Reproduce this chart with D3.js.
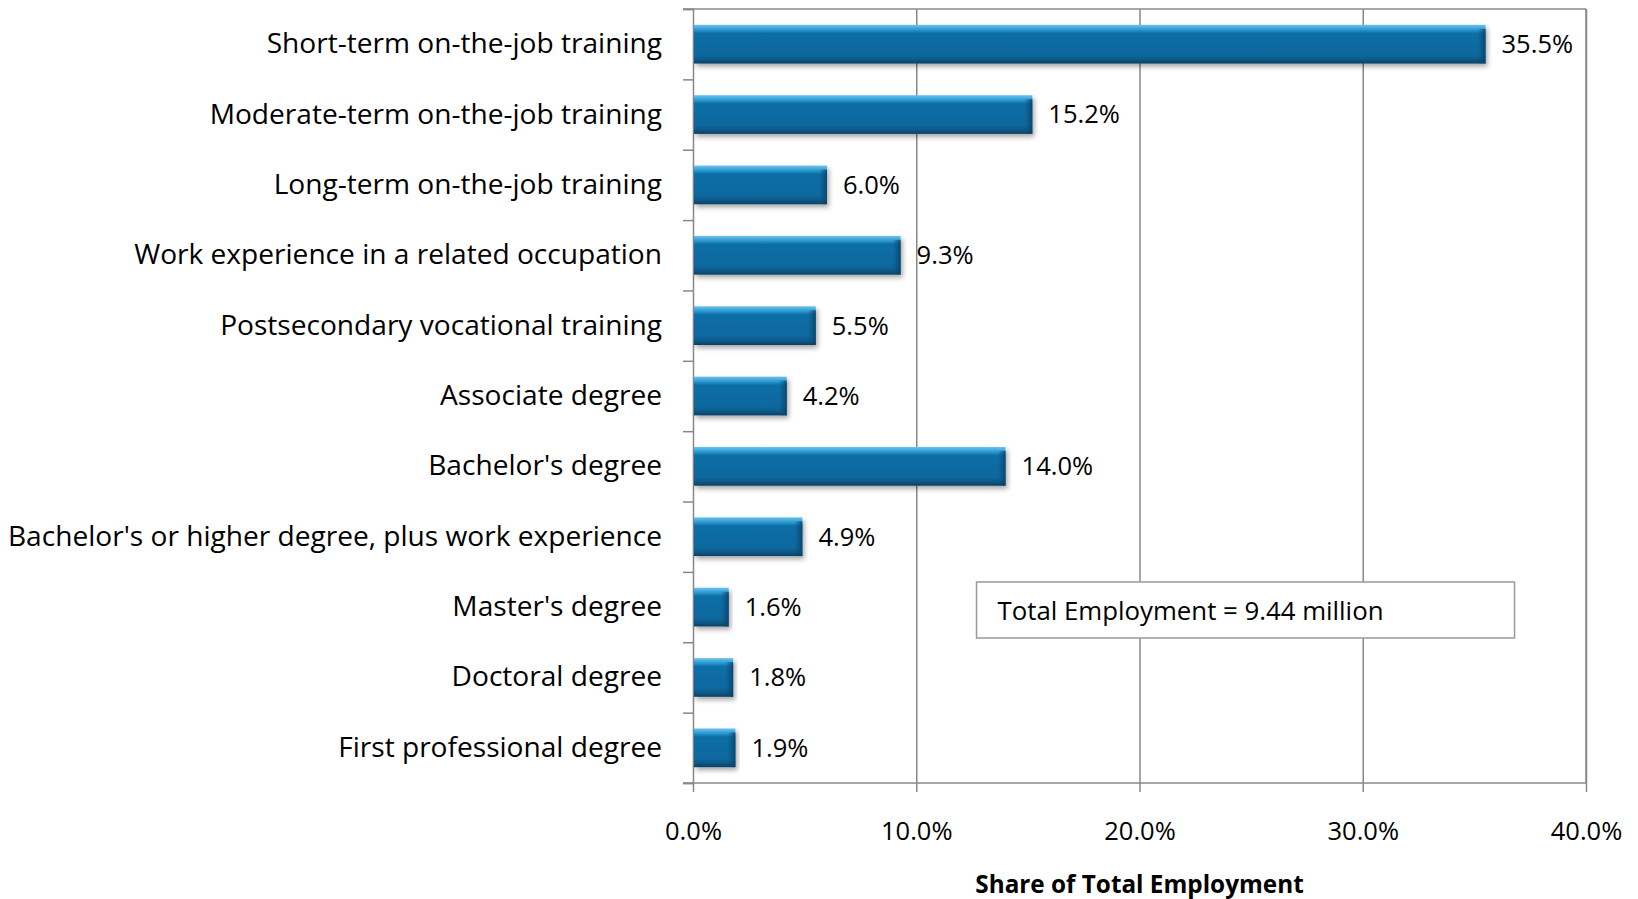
<!DOCTYPE html>
<html>
<head>
<meta charset="utf-8">
<script src="https://cdn.jsdelivr.net/npm/d3@7"></script>
<style>
  body { margin: 0; background: #fff; }
  text { font-family: "Open Sans", "Noto Sans", sans-serif; fill: #000; }
</style>
</head>
<body>
<div id="chart"></div>
<script>
// chart data
const categories = [
  "Short-term on-the-job training",
  "Moderate-term on-the-job training",
  "Long-term on-the-job training",
  "Work experience in a related occupation",
  "Postsecondary vocational training",
  "Associate degree",
  "Bachelor's degree",
  "Bachelor's or higher degree, plus work experience",
  "Master's degree",
  "Doctoral degree",
  "First professional degree"
];
const shares = [35.5, 15.2, 6.0, 9.3, 5.5, 4.2, 14.0, 4.9, 1.6, 1.8, 1.9];
const xTicks = [0, 10, 20, 30, 40];
const axisTitle = "Share of Total Employment";
const noteText = "Total Employment = 9.44 million";

let width = 1638,
    height = 899,
    margin = ({ top: 9, right: 52, bottom: 116, left: 693 });

const gridColor = "#888";

const svg = d3.select("#chart")
  .append("svg")
  .attr("width", width)
  .attr("height", height);

const defs = svg.append("defs");

// bevelled blue bar look
const grad = defs.append("linearGradient")
  .attr("id", "barFill")
  .attr("x1", 0).attr("y1", 0).attr("x2", 0).attr("y2", 1);
[[0, "#6cc3ee"], [0.12, "#2f9ad4"], [0.22, "#0b6ea6"], [0.78, "#0a689e"], [0.9, "#0a5886"], [1, "#0a3f63"]]
  .forEach(([o, c]) => grad.append("stop").attr("offset", o).attr("stop-color", c));

const endGrad = defs.append("linearGradient")
  .attr("id", "barEnd")
  .attr("x1", 0).attr("y1", 0).attr("x2", 1).attr("y2", 0);
[[0, "#0a4f7a", 0], [1, "#0a3f63", 0.85]]
  .forEach(([o, c, a]) => endGrad.append("stop").attr("offset", o).attr("stop-color", c).attr("stop-opacity", a));

const shadow = defs.append("filter")
  .attr("id", "shadow")
  .attr("x", "-5%").attr("y", "-20%").attr("width", "115%").attr("height", "160%");
shadow.append("feDropShadow")
  .attr("dx", 2).attr("dy", 3).attr("stdDeviation", 2.5)
  .attr("flood-color", "#000").attr("flood-opacity", 0.35);

let x = d3.scaleLinear()
  .domain([0, 40])
  .range([margin.left, width - margin.right]);

let y = d3.scaleBand()
  .domain(categories)
  .range([margin.top, height - margin.bottom])
  .paddingInner(0.45)
  .paddingOuter(0.225);

// slot boundaries for the category ticks
let yIdx = d3.scaleLinear()
  .domain([0, categories.length])
  .range([margin.top, height - margin.bottom]);

// vertical gridlines
svg.append("g")
  .attr("class", "grid")
  .attr("transform", `translate(0,${margin.top})`)
  .call(d3.axisBottom(x).tickValues(xTicks.slice(1)).tickSize(height - margin.top - margin.bottom).tickFormat(""))
  .call(g => g.select(".domain").remove())
  .call(g => g.selectAll("line").attr("stroke", gridColor).attr("stroke-width", 1.5));

// top border
svg.append("line")
  .attr("x1", margin.left - 10).attr("x2", width - margin.right)
  .attr("y1", margin.top).attr("y2", margin.top)
  .attr("stroke", gridColor).attr("stroke-width", 1.5);

// x axis
svg.append("g")
  .attr("class", "x-axis")
  .attr("transform", `translate(0,${height - margin.bottom})`)
  .call(d3.axisBottom(x).tickValues(xTicks).tickSize(9).tickPadding(0).tickFormat(d => d.toFixed(1) + "%"))
  .call(g => g.select(".domain").remove())
  .call(g => g.selectAll("line").attr("stroke", gridColor).attr("stroke-width", 1.5))
  .call(g => g.selectAll("text")
    .attr("y", 48).attr("dy", "0.35em")
    .attr("font-size", 25.5).attr("font-family", null).attr("fill", "#000"));

svg.append("line")
  .attr("x1", margin.left - 10).attr("x2", width - margin.right)
  .attr("y1", height - margin.bottom).attr("y2", height - margin.bottom)
  .attr("stroke", gridColor).attr("stroke-width", 1.5);

// y axis: boundary ticks
svg.append("g")
  .attr("transform", `translate(${margin.left},0)`)
  .call(d3.axisLeft(yIdx).ticks(categories.length).tickSize(10).tickFormat(""))
  .call(g => g.select(".domain").attr("stroke", gridColor).attr("stroke-width", 1.5))
  .call(g => g.selectAll("line").attr("stroke", gridColor).attr("stroke-width", 1.5));

// y axis: category labels
svg.append("g")
  .attr("class", "y-axis")
  .attr("transform", `translate(${margin.left},0)`)
  .call(d3.axisLeft(y).tickSize(0).tickPadding(31))
  .call(g => g.select(".domain").remove())
  .call(g => g.selectAll("text")
    .attr("font-size", 28.1).attr("font-family", null).attr("fill", "#000"));

// bars
const bars = svg.append("g")
  .selectAll("g")
  .data(categories)
  .join("g");

bars.append("rect")
  .attr("x", x(0) + 1)
  .attr("y", d => y(d))
  .attr("width", (d, i) => x(shares[i]) - x(0) - 1)
  .attr("height", y.bandwidth())
  .attr("fill", "url(#barFill)")
  .attr("filter", "url(#shadow)");

// darker right end for the bevel
bars.append("rect")
  .attr("x", (d, i) => x(shares[i]) - 8)
  .attr("y", d => y(d) + 4)
  .attr("width", 8)
  .attr("height", y.bandwidth() - 4)
  .attr("fill", "url(#barEnd)");

// value labels
svg.append("g")
  .selectAll("text")
  .data(categories)
  .join("text")
  .attr("x", (d, i) => x(shares[i]) + 16)
  .attr("y", d => y(d) + y.bandwidth() / 2)
  .attr("dy", "0.35em")
  .attr("font-size", 25.5)
  .text((d, i) => shares[i].toFixed(1) + "%");

// right border
svg.append("line")
  .attr("x1", width - margin.right).attr("x2", width - margin.right)
  .attr("y1", margin.top).attr("y2", height - margin.bottom)
  .attr("stroke", gridColor).attr("stroke-width", 1.5);

// note box
const note = svg.append("g");
note.append("rect")
  .attr("x", x(12.7)).attr("y", 582)
  .attr("width", x(36.8) - x(12.7)).attr("height", 56)
  .attr("fill", "#fff")
  .attr("stroke", "#999").attr("stroke-width", 1.5);
note.append("text")
  .attr("x", x(12.7) + 21).attr("y", 611)
  .attr("dy", "0.35em")
  .attr("font-size", 25.8)
  .text(noteText);

// axis title
svg.append("text")
  .attr("x", (margin.left + width - margin.right) / 2)
  .attr("y", 884)
  .attr("dy", "0.35em")
  .attr("text-anchor", "middle")
  .attr("font-size", 24.3)
  .attr("font-weight", "bold")
  .text(axisTitle);
</script>
</body>
</html>
